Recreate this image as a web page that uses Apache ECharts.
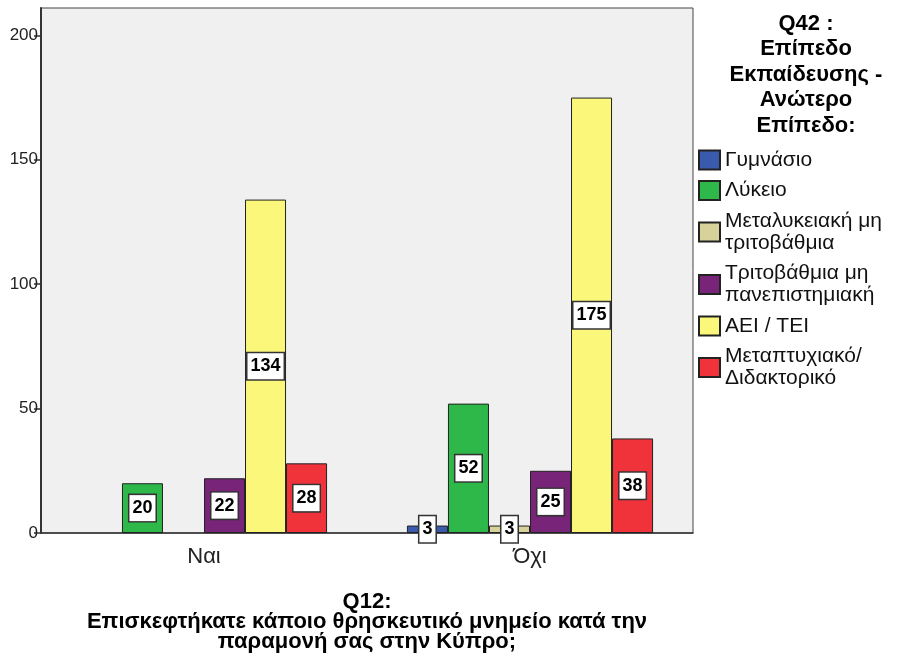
<!DOCTYPE html>
<html>
<head>
<meta charset="utf-8">
<script src="https://cdn.jsdelivr.net/npm/echarts@6/dist/echarts.min.js"></script>
<style>html,body{margin:0;padding:0;background:#fff}#c{width:902px;height:654px}</style>
</head>
<body>
<div id="c"></div>
<script>
var categories = ['Ναι', 'Όχι'];
var seriesNames = ['Γυμνάσιο', 'Λύκειο', 'Μεταλυκειακή μη\nτριτοβάθμια', 'Τριτοβάθμια μη\nπανεπιστημιακή', 'ΑΕΙ / ΤΕΙ', 'Μεταπτυχιακό/\nΔιδακτορικό'];
var gymnasio = [null, 3];
var lykeio = [20, 52];
var metalykeiaki = [null, 3];
var tritovathmia = [22, 25];
var aei = [134, 175];
var metaptyxiako = [28, 38];
var yTicks = [0, 50, 100, 150, 200];
var colors = ['#3a5aad', '#2fb84a', '#d7d29a', '#772479', '#faf77a', '#f0333b'];
var allValues = [gymnasio, lykeio, metalykeiaki, tritovathmia, aei, metaptyxiako];

var FONT = 'Liberation Sans, Arial, sans-serif';
var chart = echarts.init(document.getElementById('c'));
var series = seriesNames.map(function (n, i) {
  return {
    name: n,
    type: 'bar',
    data: allValues[i],
    barGap: '0%',
    barCategoryGap: '24.5%',
    itemStyle: { color: colors[i], borderColor: '#222', borderWidth: 1 },
    label: {
      show: true, position: 'inside', color: '#000', fontWeight: 'bold', fontSize: 18,
      fontFamily: FONT, backgroundColor: '#fff', borderColor: '#333', borderWidth: 1.5,
      padding: [5, 3, 3, 3]
    },
    emphasis: { disabled: true }
  };
});
chart.setOption({
  animation: false,
  title: {
    text: 'Q42 :\nΕπίπεδο\nΕκπαίδευσης -\nΑνώτερο\nΕπίπεδο:',
    left: 801, top: 6, textAlign: 'center',
    textStyle: { fontSize: 22, fontWeight: 'bold', color: '#000', lineHeight: 25.5, fontFamily: FONT }
  },
  legend: {
    orient: 'vertical', left: 693, top: 144, itemWidth: 21, itemHeight: 19, itemGap: 8.5,
    icon: 'rect', selectedMode: false,
    textStyle: { fontSize: 21, lineHeight: 22, color: '#111', fontFamily: FONT }
  },
  grid: {
    left: 41, right: 209, top: 8, bottom: 121, show: true, outerBoundsMode: 'none',
    backgroundColor: '#f0f0f0', borderColor: '#444', borderWidth: 1
  },
  xAxis: {
    type: 'category', data: categories,
    axisLine: { lineStyle: { color: '#333', width: 1.5 } },
    axisTick: { alignWithLabel: true, length: 8, lineStyle: { color: '#333', width: 1.5 } },
    axisLabel: { fontSize: 22, color: '#222', margin: 13, fontFamily: FONT },
    name: 'Q12:\nΕπισκεφτήκατε κάποιο θρησκευτικό μνημείο κατά την\nπαραμονή σας στην Κύπρο;',
    nameLocation: 'middle', nameGap: 59,
    nameTextStyle: { fontSize: 22, fontWeight: 'bold', color: '#000', lineHeight: 20, fontFamily: FONT }
  },
  yAxis: {
    type: 'value', min: 0, max: 211,
    splitLine: { show: false },
    axisLine: { show: true, lineStyle: { color: '#333', width: 2 } },
    axisTick: { show: true, length: 7, customValues: yTicks, lineStyle: { color: '#333', width: 1.5 } },
    axisLabel: { fontSize: 17, color: '#222', margin: 3, customValues: yTicks, fontFamily: FONT }
  },
  series: series
});
</script>
</body>
</html>
